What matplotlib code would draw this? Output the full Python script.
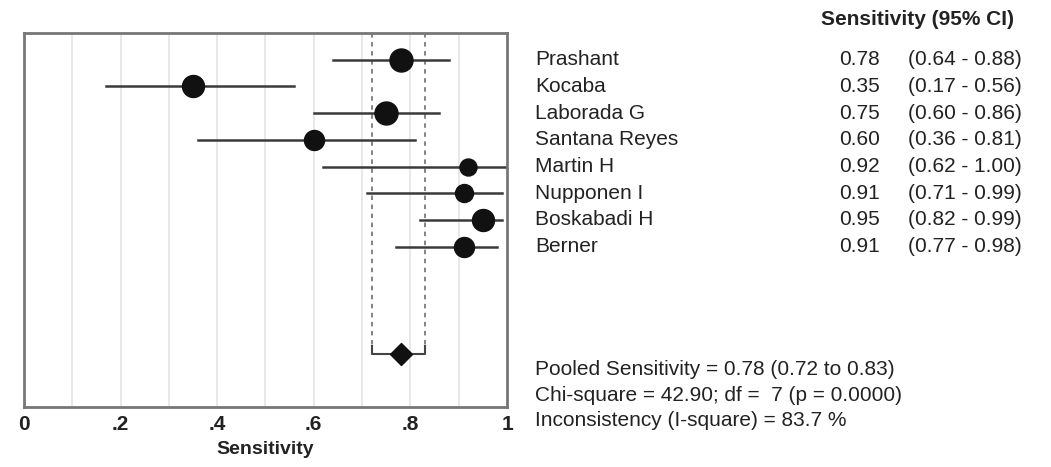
import numpy as np
import matplotlib
matplotlib.use("Agg")
import matplotlib.pyplot as plt

plt.rcParams['font.family'] = ['Liberation Sans', 'DejaVu Sans']

# study data
studies = ['Prashant', 'Kocaba', 'Laborada G', 'Santana Reyes',
           'Martin H', 'Nupponen I', 'Boskabadi H', 'Berner']
sens = [0.78, 0.35, 0.75, 0.60, 0.92, 0.91, 0.95, 0.91]
ci_lo = [0.64, 0.17, 0.60, 0.36, 0.62, 0.71, 0.82, 0.77]
ci_hi = [0.88, 0.56, 0.86, 0.81, 1.00, 0.99, 0.99, 0.98]
# relative study weights (marker diameter)
weights = [23, 22, 23, 20, 17, 18, 22, 20]

pooled = 0.78
pooled_lo = 0.72
pooled_hi = 0.83
chi_sq = 42.90
df_chi = 7
p_val = 0.0000
i_sq = 83.7

xticks = [0, 0.2, 0.4, 0.6, 0.8, 1.0]
xtick_labels = ['0', '.2', '.4', '.6', '.8', '1']

txt_col = '#222222'
fs = 15

fig = plt.figure(figsize=(10.51, 4.67), dpi=100)
ax = fig.add_axes([0.0228, 0.1285, 0.4596, 0.8009])

rows = np.arange(1, len(studies) + 1)
pooled_row = 12

# light grid
for g in np.arange(0.1, 1.0, 0.1):
    ax.axvline(g, color='#e4e4e4', lw=1.2, zorder=0)

# pooled CI dashed lines down to the pooled estimate
ax.plot([pooled_lo, pooled_lo], [0, pooled_row], color='#7a7a7a', lw=1.3, ls=(0, (2.5, 2.5)), zorder=1)
ax.plot([pooled_hi, pooled_hi], [0, pooled_row], color='#7a7a7a', lw=1.3, ls=(0, (2.5, 2.5)), zorder=1)
ax.plot([pooled_lo, pooled_lo, pooled_hi, pooled_hi],
        [pooled_row - 0.3, pooled_row, pooled_row, pooled_row - 0.3],
        color='#444444', lw=1.5, zorder=2)
ax.plot(pooled, pooled_row, marker='D', ms=11, color='#111111', zorder=3)

# studies
for r, s, lo, hi, w in zip(rows, sens, ci_lo, ci_hi, weights):
    ax.plot([lo, hi], [r, r], color='#3a3a3a', lw=1.8, zorder=2, clip_on=True)
    ax.plot(s, r, marker='o', ms=w * 0.72, color='#111111', zorder=3)

ax.set_xlim(0, 1)
ax.set_ylim(14, 0)
ax.set_yticks([])
ax.set_xticks(xticks)
ax.set_xticklabels(xtick_labels, fontsize=15, fontweight='bold', color=txt_col)
ax.tick_params(axis='x', length=0, pad=6)
ax.set_xlabel('Sensitivity', fontsize=14, fontweight='bold', color=txt_col, labelpad=5)
for sp in ax.spines.values():
    sp.set_color('#777777')
    sp.set_linewidth(2)

# right-hand table
ax.text(1.85, -0.5, 'Sensitivity (95% CI)', fontsize=15, fontweight='bold',
        color=txt_col, ha='center', va='center', clip_on=False)
for r, name, s, lo, hi in zip(rows, studies, sens, ci_lo, ci_hi):
    ax.text(1.058, r, name, fontsize=fs, color=txt_col, ha='left', va='center', clip_on=False)
    ax.text(1.772, r, f'{s:.2f}', fontsize=fs, color=txt_col, ha='right', va='center', clip_on=False)
    ax.text(1.830, r, f'({lo:.2f} - {hi:.2f})', fontsize=fs, color=txt_col,
            ha='left', va='center', clip_on=False)

stats = [f'Pooled Sensitivity = {pooled:.2f} ({pooled_lo:.2f} to {pooled_hi:.2f})',
         f'Chi-square = {chi_sq:.2f}; df =  {df_chi} (p = {p_val:.4f})',
         f'Inconsistency (I-square) = {i_sq:.1f} %']
for k, line in enumerate(stats):
    ax.text(1.058, 12.6 + k * 0.96, line, fontsize=fs, color=txt_col,
            ha='left', va='center', clip_on=False)

fig.savefig('out.png', dpi=100)
